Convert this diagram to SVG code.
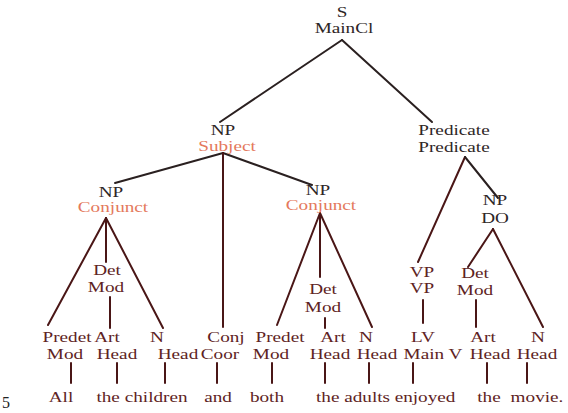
<svg xmlns="http://www.w3.org/2000/svg" width="568" height="413" viewBox="0 0 568 413">
<style>
text{font-family:"Liberation Serif","Times New Roman",serif;font-size:15px;text-anchor:middle}
.d{fill:#2e2626}
.m{fill:#5e2323}
.o{fill:#e4795c}
.c line{stroke:#4a1616;stroke-width:2;stroke-linecap:round}
.c .k{stroke:#2a2020}
</style>
<rect width="568" height="413" fill="#ffffff"/>
<g class="c" id="connectors">
<line class="k" x1="342" y1="40" x2="220" y2="122"/>
<line class="k" x1="342" y1="40" x2="432" y2="122"/>
<line class="k" x1="223" y1="153" x2="115" y2="183"/>
<line class="k" x1="223" y1="153" x2="312" y2="185"/>
<line x1="223" y1="153" x2="223" y2="327"/>
<line x1="106" y1="218" x2="48" y2="325"/>
<line x1="106" y1="218" x2="106" y2="262"/>
<line x1="106" y1="218" x2="163" y2="328"/>
<line x1="110" y1="297" x2="110" y2="328"/>
<line x1="320" y1="213" x2="277" y2="325"/>
<line x1="320" y1="213" x2="320" y2="277"/>
<line x1="320" y1="213" x2="372" y2="327"/>
<line x1="325" y1="318" x2="325" y2="328"/>
<line x1="465" y1="157" x2="418" y2="262"/>
<line class="k" x1="465" y1="157" x2="498" y2="198"/>
<line x1="493" y1="229" x2="468" y2="267"/>
<line x1="493" y1="229" x2="543" y2="327"/>
<line x1="423" y1="300" x2="423" y2="323"/>
<line x1="476" y1="300" x2="476" y2="327"/>
<line x1="71" y1="363" x2="71" y2="383"/>
<line x1="117" y1="363" x2="117" y2="383"/>
<line x1="165" y1="363" x2="165" y2="383"/>
<line x1="217" y1="363" x2="217" y2="383"/>
<line x1="272" y1="363" x2="272" y2="383"/>
<line x1="325" y1="363" x2="325" y2="383"/>
<line x1="369" y1="363" x2="369" y2="383"/>
<line x1="413" y1="363" x2="413" y2="383"/>
<line x1="487" y1="363" x2="487" y2="383"/>
<line x1="527" y1="363" x2="527" y2="383"/>
</g>
<g id="n-s"><text class="d" transform="translate(342,17) scale(1.28,1)">S</text><text class="d" transform="translate(344,33) scale(1.28,1)">MainCl</text></g>
<g id="n-subject"><text class="d" transform="translate(223,135) scale(1.28,1)">NP</text><text class="o" transform="translate(227,151) scale(1.28,1)">Subject</text></g>
<g id="n-predicate"><text class="d" transform="translate(454,135) scale(1.28,1)">Predicate</text><text class="d" transform="translate(454,152) scale(1.28,1)">Predicate</text></g>
<g id="n-conj1"><text class="d" transform="translate(111,197) scale(1.28,1)">NP</text><text class="o" transform="translate(113,212) scale(1.28,1)">Conjunct</text></g>
<g id="n-conj2"><text class="d" transform="translate(318,195) scale(1.28,1)">NP</text><text class="o" transform="translate(321,210) scale(1.28,1)">Conjunct</text></g>
<g id="n-do"><text class="d" transform="translate(495,205) scale(1.28,1)">NP</text><text class="d" transform="translate(495,223) scale(1.28,1)">DO</text></g>
<g id="n-det1"><text class="m" transform="translate(107,275) scale(1.28,1)">Det</text><text class="m" transform="translate(106,292) scale(1.28,1)">Mod</text></g>
<g id="n-det2"><text class="m" transform="translate(323,294) scale(1.28,1)">Det</text><text class="m" transform="translate(323,312) scale(1.28,1)">Mod</text></g>
<g id="n-vp"><text class="m" transform="translate(422,277) scale(1.28,1)">VP</text><text class="m" transform="translate(422,293) scale(1.28,1)">VP</text></g>
<g id="n-det3"><text class="m" transform="translate(475,278) scale(1.28,1)">Det</text><text class="m" transform="translate(475,295) scale(1.28,1)">Mod</text></g>
<g id="n-predet1"><text class="m" transform="translate(67,342) scale(1.28,1)">Predet</text><text class="m" transform="translate(65,359) scale(1.28,1)">Mod</text><text class="m" transform="translate(61,402) scale(1.28,1)">All</text></g>
<g id="n-art1"><text class="m" transform="translate(107,342) scale(1.28,1)">Art</text><text class="m" transform="translate(117,359) scale(1.28,1)">Head</text></g>
<g id="n-n1"><text class="m" transform="translate(157,342) scale(1.28,1)">N</text><text class="m" transform="translate(178,359) scale(1.28,1)">Head</text><text class="m" transform="translate(142,402) scale(1.28,1)">the children</text></g>
<g id="n-conj"><text class="m" transform="translate(226,342) scale(1.28,1)">Conj</text><text class="m" transform="translate(220,359) scale(1.28,1)">Coor</text><text class="m" transform="translate(218,402) scale(1.28,1)">and</text></g>
<g id="n-predet2"><text class="m" transform="translate(280,342) scale(1.28,1)">Predet</text><text class="m" transform="translate(271,359) scale(1.28,1)">Mod</text><text class="m" transform="translate(267,402) scale(1.28,1)">both</text></g>
<g id="n-art2"><text class="m" transform="translate(333,342) scale(1.28,1)">Art</text><text class="m" transform="translate(330,359) scale(1.28,1)">Head</text></g>
<g id="n-n2"><text class="m" transform="translate(366,342) scale(1.28,1)">N</text><text class="m" transform="translate(377,359) scale(1.28,1)">Head</text><text class="m" transform="translate(353,402) scale(1.28,1)">the adults</text></g>
<g id="n-lv"><text class="m" transform="translate(423,342) scale(1.28,1)">LV</text><text class="m" transform="translate(433,359) scale(1.28,1)">Main V</text><text class="m" transform="translate(425,402) scale(1.28,1)">enjoyed</text></g>
<g id="n-art3"><text class="m" transform="translate(483,342) scale(1.28,1)">Art</text><text class="m" transform="translate(490,359) scale(1.28,1)">Head</text><text class="m" transform="translate(489,402) scale(1.28,1)">the</text></g>
<g id="n-n3"><text class="m" transform="translate(538,342) scale(1.28,1)">N</text><text class="m" transform="translate(537,359) scale(1.28,1)">Head</text><text class="m" transform="translate(537,402) scale(1.28,1)">movie.</text></g>
<text x="2" y="408" style="font-size:16px;fill:#222;text-anchor:start">5</text>
</svg>
